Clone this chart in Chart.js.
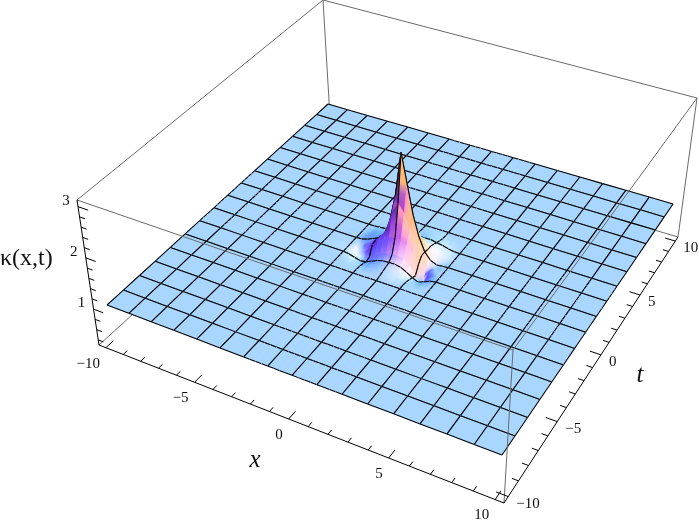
<!DOCTYPE html>
<html>
<head>
<meta charset="utf-8">
<style>
  html, body { margin: 0; padding: 0; background: #fff; }
  canvas { display: block; }
</style>
<script src="https://cdn.jsdelivr.net/npm/chart.js@4"></script>
</head>
<body>
<canvas id="chart" width="699" height="524"></canvas>
<script>
// heights
const outerCoords = [-10, -8.75, -7.5, -6.25, -5, -3.75, 3.75, 5, 6.25, 7.5, 8.75, 10];
const innerCoords = [-2.5, -2.1875, -1.875, -1.5625, -1.25, -0.9375, -0.625, -0.3125, 0,
  0.3125, 0.625, 0.9375, 1.25, 1.5625, 1.875, 2.1875, 2.5];
const flatLevel = 1;
// rows are t from -2.5 to 2.5, columns are x from -2.5 to 2.5
const kappaRows = [
  [1,1,1,1,1,1,1,1,1,1,1,1,1,1,1,1,1],
  [1,1,1,1,1,1.01,1.01,1.02,1.02,1.02,1.01,1,1,1,1,1,1],
  [1,1,1,.99,.99,1,1.02,1.03,1.04,1.03,1.02,1,.99,.98,.99,1,1],
  [1,1,.98,.96,.97,1,1.03,1.05,1.06,1.05,1.03,1,.96,.95,.97,.99,1],
  [1,.98,.95,.92,.94,.99,1.04,1.07,1.08,1.08,1.06,1,.93,.88,.93,.98,1],
  [1,.97,.92,.88,.96,1.04,1.1,1.14,1.17,1.17,1.14,1.05,.9,.76,.93,.99,1],
  [1,.98,.93,.98,1.14,1.24,1.32,1.4,1.44,1.42,1.35,1.24,1.06,.84,.99,1,1],
  [1,1,.99,1.06,1.16,1.28,1.45,1.85,2.05,1.88,1.6,1.38,1.16,.98,.97,.99,1],
  [1,1.01,1.04,1.09,1.14,1.24,1.55,2.1,3,2.4,1.82,1.42,1.16,1.03,.98,.99,1],
  [1,1.01,1.05,1.09,1.12,1.17,1.28,1.55,1.95,1.82,1.52,1.3,1.14,1.06,1.02,1,1],
  [1,1.01,1.04,1.07,1.09,1.12,1.17,1.25,1.34,1.34,1.27,1.2,1.14,1.08,1.04,1.01,1],
  [1,1,1.02,1.04,1.06,1.07,1.09,1.12,1.15,1.16,1.16,1.14,1.11,1.07,1.04,1.01,1],
  [1,1,1.01,1.02,1.03,1.04,1.05,1.06,1.07,1.08,1.09,1.09,1.07,1.05,1.02,1,1],
  [1,1,1,1.01,1.01,1.02,1.02,1.03,1.03,1.04,1.05,1.05,1.04,1.02,1.01,1,1],
  [1,1,1,1,1,1,1.01,1.01,1.01,1.02,1.02,1.02,1.01,1.01,1,1,1],
  [1,1,1,1,1,1,1,1,1,1.01,1.01,1.01,1,1,1,1,1],
  [1,1,1,1,1,1,1,1,1,1,1,1,1,1,1,1,1]
];
const xTicks = [-10, -5, 0, 5, 10];
const xMinorTicks = [-10, -9, -8, -7, -6, -5, -4, -3, -2, -1, 0, 1, 2, 3, 4, 5, 6, 7, 8, 9, 10];
const tTicks = xTicks;
const tMinorTicks = xMinorTicks;
const kappaTicks = [1, 2, 3];
const kappaMinorTicks = [0.4, 0.6, 0.8, 1, 1.2, 1.4, 1.6, 1.8, 2, 2.2, 2.4, 2.6, 2.8, 3];

// camera: where the corners of the box and the surface land on the page
const surfaceCorners = [[107, 305], [502, 455], [673, 204], [328, 104]];
const floorCorners = [[99, 345], [504, 503], [678, 237], [331, 134]];
const topCorners = [[77, 200], [513, 350], [697, 98], [323, 0]];
const boxEdge = 10.4;
const boxBottom = 0.3;
const boxTop = 3.13;

// maps the unit square onto four corners
function makeHomography(q) {
  const [x0, y0] = q[0], [x1, y1] = q[1], [x2, y2] = q[2], [x3, y3] = q[3];
  const dx1 = x1 - x2, dx2 = x3 - x2, sx = x0 - x1 + x2 - x3;
  const dy1 = y1 - y2, dy2 = y3 - y2, sy = y0 - y1 + y2 - y3;
  const den = dx1 * dy2 - dx2 * dy1;
  const g = (sx * dy2 - dx2 * sy) / den;
  const h = (dx1 * sy - sx * dy1) / den;
  const a = x1 - x0 + g * x1, b = x3 - x0 + h * x3;
  const d = y1 - y0 + g * y1, e = y3 - y0 + h * y3;
  return (u, v) => {
    const w = g * u + h * v + 1;
    return [(a * u + b * v + x0) / w, (d * u + e * v + y0) / w];
  };
}

const surfaceMap = makeHomography(surfaceCorners);
const floorMap = makeHomography(floorCorners);
const topMap = makeHomography(topCorners);

function boxPoint(x, t, z) {
  const u = (x + boxEdge) / (2 * boxEdge), v = (t + boxEdge) / (2 * boxEdge);
  const f = floorMap(u, v), c = topMap(u, v);
  const k = (z - boxBottom) / (boxTop - boxBottom);
  return { x: f[0] + (c[0] - f[0]) * k, y: f[1] + (c[1] - f[1]) * k };
}

function surfacePoint(x, t, z) {
  const base = surfaceMap((x + 10) / 20, (t + 10) / 20);
  const lo = boxPoint(x, t, boxBottom), hi = boxPoint(x, t, boxTop);
  const k = (z - flatLevel) / (boxTop - boxBottom);
  return { x: base[0] + (hi.x - lo.x) * k, y: base[1] + (hi.y - lo.y) * k };
}

const gridCoords = [...outerCoords.slice(0, 6), ...innerCoords, ...outerCoords.slice(6)];
const lastIndex = gridCoords.length - 1;

function heightAt(x, t) {
  const i = innerCoords.indexOf(x), j = innerCoords.indexOf(t);
  return i < 0 || j < 0 ? flatLevel : kappaRows[j][i];
}

// Mathematica's default three coloured lights, seen from the camera
const screenRight = [0.874, 0.487, 0];
const screenUp = [-0.3, 0.546, 0.78];
const screenOut = [0.38, -0.68, 0.62];
const slopeX = 3.5;
const slopeT = 1.8;
const lights = [
  { dir: [0.59, -0.2, 0.78], ambient: 0.4, channel: 0 },
  { dir: [0.51, 0.51, 0.68], ambient: 0.185, channel: 1 },
  { dir: [-0.2, 0.59, 0.78], ambient: 0.4, channel: 2 }
];

function dot(a, b) {
  return a[0] * b[0] + a[1] * b[1] + a[2] * b[2];
}

// colour of the surface at a grid node, from its slope
function nodeColor(i, j) {
  const xa = gridCoords[Math.max(i - 1, 0)], xb = gridCoords[Math.min(i + 1, lastIndex)];
  const ta = gridCoords[Math.max(j - 1, 0)], tb = gridCoords[Math.min(j + 1, lastIndex)];
  const x = gridCoords[i], t = gridCoords[j];
  const zx = (heightAt(xb, t) - heightAt(xa, t)) / (xb - xa);
  const zt = (heightAt(x, tb) - heightAt(x, ta)) / (tb - ta);
  const n = [-slopeX * zx, -slopeT * zt, 1];
  const len = Math.hypot(n[0], n[1], n[2]);
  const view = [dot(n, screenRight) / len, dot(n, screenUp) / len, dot(n, screenOut) / len];
  const rgb = [0, 0, 0];
  lights.forEach((l) => {
    const v = l.ambient + 0.8 * Math.max(0, dot(view, l.dir));
    rgb[l.channel] = Math.round(Math.min(1, v) * 255);
  });
  return rgb;
}

function css(rgb) {
  return `rgb(${Math.round(rgb[0])},${Math.round(rgb[1])},${Math.round(rgb[2])})`;
}

function colorGap(a, b) {
  return Math.abs(a[0] - b[0]) + Math.abs(a[1] - b[1]) + Math.abs(a[2] - b[2]);
}

const canvas = document.getElementById("chart");
const gradientCtx = canvas.getContext("2d");

// solid where the quad is flat, otherwise a gradient along its steeper diagonal
function quadPaint(points, colors) {
  const gapA = colorGap(colors[0], colors[2]), gapB = colorGap(colors[1], colors[3]);
  if (gapA + gapB === 0) return css(colors[0]);
  const first = gapA >= gapB ? 0 : 1;
  const p = points[first], q = points[first + 2];
  const m1 = colors[first + 1], m2 = colors[(first + 3) % 4];
  const grad = gradientCtx.createLinearGradient(p.x, p.y, q.x, q.y);
  grad.addColorStop(0, css(colors[first]));
  grad.addColorStop(0.5, css([(m1[0] + m2[0]) / 2, (m1[1] + m2[1]) / 2, (m1[2] + m2[2]) / 2]));
  grad.addColorStop(1, css(colors[first + 2]));
  return grad;
}

const datasets = [];

function addLine(points, color, width) {
  datasets.push({
    data: points, showLine: true, fill: false, borderColor: color, borderWidth: width,
    pointRadius: 0, tension: 0
  });
}

function addPatch(points, paint) {
  datasets.push({
    data: points, showLine: true, fill: "shape", backgroundColor: paint, borderColor: paint,
    borderWidth: 0.7, pointRadius: 0, tension: 0
  });
}

const boxGrey = "#6a6a6a";
const axisBlack = "#000";
const meshBlack = "#000";
const meshWidth = 1.05;

function boxLine(a, b, color) {
  addLine([boxPoint(a[0], a[1], a[2]), boxPoint(b[0], b[1], b[2])], color, 1);
}

const E = boxEdge, B = boxBottom, T = boxTop;

// box edges behind the surface
boxLine([-E, -E, B], [-E, E, B], boxGrey);
boxLine([-E, E, B], [E, E, B], boxGrey);
boxLine([-E, E, B], [-E, E, T], boxGrey);

// surface, back corner to front corner
for (let i = 0; i < lastIndex; i++) {
  for (let j = lastIndex - 1; j >= 0; j--) {
    const x0 = gridCoords[i], x1 = gridCoords[i + 1];
    const t0 = gridCoords[j], t1 = gridCoords[j + 1];
    const p00 = surfacePoint(x0, t0, heightAt(x0, t0)), p10 = surfacePoint(x1, t0, heightAt(x1, t0));
    const p11 = surfacePoint(x1, t1, heightAt(x1, t1)), p01 = surfacePoint(x0, t1, heightAt(x0, t1));
    const corners = [p00, p10, p11, p01];
    const paint = quadPaint(corners, [nodeColor(i, j), nodeColor(i + 1, j), nodeColor(i + 1, j + 1), nodeColor(i, j + 1)]);
    addPatch([p00, p10, p11, p01, p00], paint);
    if (x0 % 1.25 === 0) addLine([p00, p01], meshBlack, meshWidth);
    if (x1 % 1.25 === 0) addLine([p10, p11], meshBlack, meshWidth);
    if (t0 % 1.25 === 0) addLine([p00, p10], meshBlack, meshWidth);
    if (t1 % 1.25 === 0) addLine([p01, p11], meshBlack, meshWidth);
  }
}

// box edges in front of the surface
boxLine([-E, -E, T], [E, -E, T], boxGrey);
boxLine([E, -E, T], [E, E, T], boxGrey);
boxLine([-E, -E, T], [-E, E, T], boxGrey);
boxLine([-E, E, T], [E, E, T], boxGrey);
boxLine([E, E, T], [E, E, B], boxGrey);
boxLine([E, -E, T], [E, -E, B], boxGrey);

// the three drawn axes and their ticks
boxLine([-E, -E, B], [E, -E, B], axisBlack);
boxLine([E, -E, B], [E, E, B], axisBlack);
boxLine([-E, -E, B], [-E, -E, T], axisBlack);
xMinorTicks.forEach((v) => {
  const len = xTicks.includes(v) ? 0.55 : 0.3;
  boxLine([v, -E, B], [v, -E + len, B], axisBlack);
});
tMinorTicks.forEach((v) => {
  const len = tTicks.includes(v) ? 0.55 : 0.3;
  boxLine([E, v, B], [E - len, v, B], axisBlack);
});
kappaMinorTicks.forEach((v) => {
  const len = kappaTicks.includes(v) ? 0.55 : 0.3;
  boxLine([-E, -E, v], [-E + len, -E, v], axisBlack);
});

function drawLabel(ctx, text, px, py, font, align) {
  ctx.font = font;
  ctx.textAlign = align || "center";
  ctx.textBaseline = "middle";
  ctx.fillStyle = "#111";
  ctx.fillText(text, px, py);
}

function tickText(v) {
  return v < 0 ? "\u2212" + Math.abs(v) : String(v);
}

const labelPlugin = {
  id: "axisLabels",
  afterDraw(chart) {
    const ctx = chart.ctx;
    const tickFont = "15px 'Liberation Serif'";
    ctx.save();
    xTicks.forEach((v) => {
      const p = boxPoint(v, -E, B);
      drawLabel(ctx, tickText(v), p.x - 6, p.y + 16, tickFont, "right");
    });
    tTicks.forEach((v) => {
      const p = boxPoint(E, v, B);
      drawLabel(ctx, tickText(v), p.x + 8, p.y + 7, tickFont, "left");
    });
    kappaTicks.forEach((v) => {
      const p = boxPoint(-E, -E, v);
      drawLabel(ctx, tickText(v), p.x - 12, p.y - 6, tickFont);
    });
    drawLabel(ctx, "\u03BA(x,t)", 0, 259, "24px 'Liberation Serif'", "left");
    drawLabel(ctx, "x", 255, 460, "italic 25px 'Liberation Serif'");
    drawLabel(ctx, "t", 640, 375, "italic 25px 'Liberation Serif'");
    ctx.restore();
  }
};

// first dataset ends up on top in Chart.js, so number them backwards
datasets.forEach((d, i) => { d.order = -i; });

new Chart(canvas, {
  type: "scatter",
  data: { datasets: datasets },
  plugins: [labelPlugin],
  options: {
    responsive: false,
    animation: false,
    events: [],
    layout: { padding: 0 },
    plugins: { legend: { display: false }, tooltip: { enabled: false } },
    scales: {
      x: { type: "linear", display: false, min: 0, max: 699 },
      y: { type: "linear", display: false, min: 0, max: 524, reverse: true }
    }
  }
});
</script>
</body>
</html>
